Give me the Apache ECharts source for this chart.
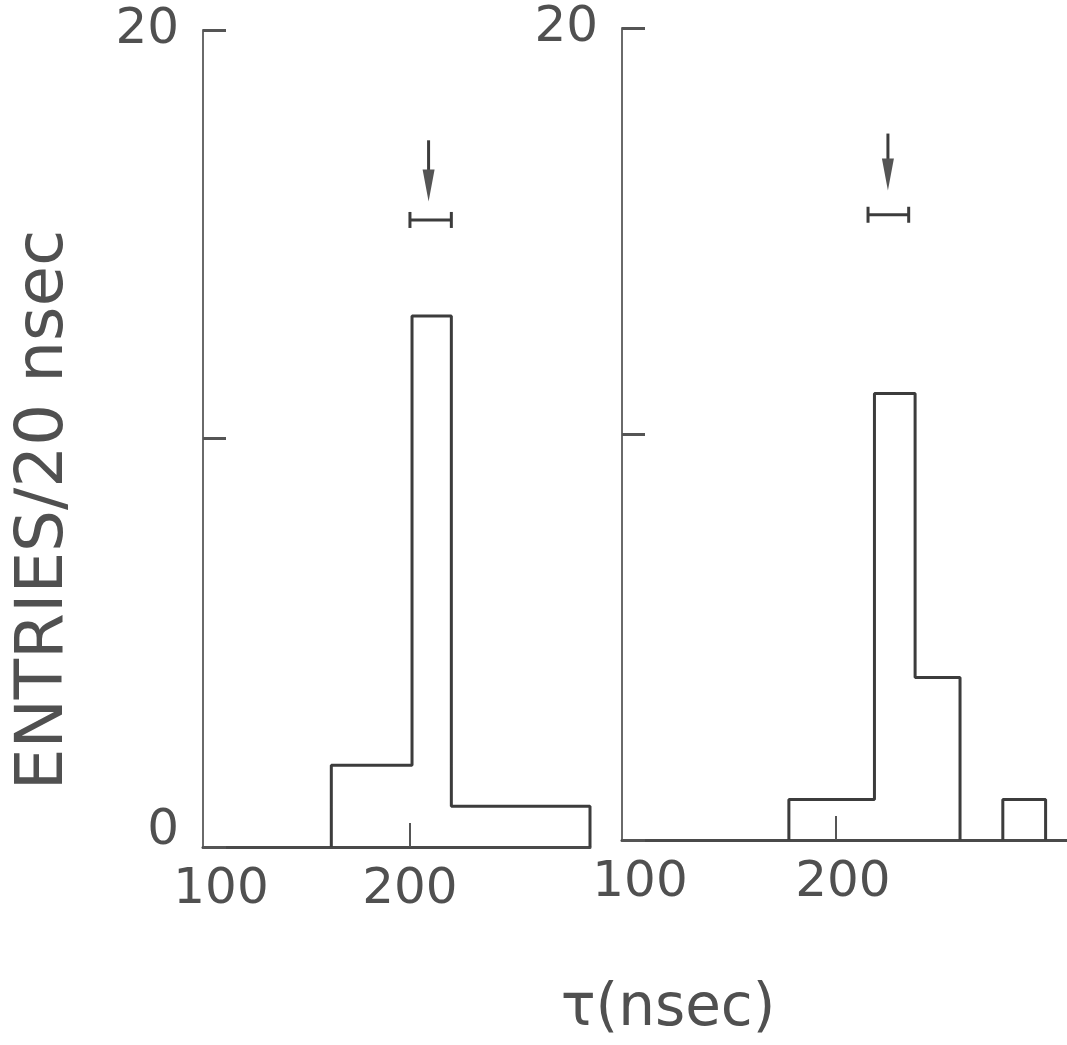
<!DOCTYPE html>
<html>
<head>
<meta charset="utf-8">
<script src="https://cdn.jsdelivr.net/npm/echarts@6/dist/echarts.min.js"></script>
<style>
  html, body { margin: 0; padding: 0; background: #ffffff; }
  #chart { width: 1067px; height: 1045px; }
</style>
</head>
<body>
<div id="chart"></div>
<script>
// ---- data ----
const leftEdges = [162, 201, 220, 287];
const leftCounts = [2, 13, 1];
const rightEdges = [178, 218, 237, 258];
const rightCounts = [1, 11, 4];
const rightTailEdges = [278, 298];
const rightTailCounts = [1];
// arrow: [x, top, tip]; error bar: [low, high, y]
const leftArrow = [209, 17.3, 15.8];
const leftErr = [200, 220, 15.35];
const rightArrow = [224.3, 17.4, 16.0];
const rightErr = [215, 234, 15.4];
const xTickLabels = [100, 200];
const leftYTickLabels = [0, 20];
const rightYTickLabels = [20];
const yTitle = 'ENTRIES/20 nsec';
const xTitle = 'τ(nsec)';

const FONT = 'DejaVu Sans';
const TXT = '#505050';
const LINE = '#3c3c3c';

function stepPoints(edges, counts) {
  const pts = [[edges[0], 0]];
  for (let i = 0; i < counts.length; i++) pts.push([edges[i], counts[i]]);
  pts.push([edges[edges.length - 1], 0]);
  return pts;
}

function histSeries(idx, edges, counts) {
  return {
    type: 'line', xAxisIndex: idx, yAxisIndex: idx,
    step: 'end', symbol: 'none', clip: false,
    data: stepPoints(edges, counts),
    lineStyle: { color: LINE, width: 3 }
  };
}

function arrowSeries(idx, a) {
  return {
    type: 'custom', xAxisIndex: idx, yAxisIndex: idx, clip: false,
    data: [a],
    renderItem: function (params, api) {
      const top = api.coord([api.value(0), api.value(1)]);
      const tip = api.coord([api.value(0), api.value(2)]);
      return {
        type: 'group',
        children: [
          { type: 'line', shape: { x1: top[0], y1: top[1], x2: tip[0], y2: tip[1] - 20 },
            style: { stroke: LINE, lineWidth: 3 } },
          { type: 'polygon', shape: { points: [[tip[0] - 6, tip[1] - 32], [tip[0] + 6, tip[1] - 32], [tip[0], tip[1]]] },
            style: { fill: '#555' } }
        ]
      };
    }
  };
}

function errSeries(idx, e) {
  return {
    type: 'custom', xAxisIndex: idx, yAxisIndex: idx, clip: false,
    data: [e],
    renderItem: function (params, api) {
      const lo = api.coord([api.value(0), api.value(2)]);
      const hi = api.coord([api.value(1), api.value(2)]);
      const st = { stroke: LINE, lineWidth: 3 };
      return {
        type: 'group',
        children: [
          { type: 'line', shape: { x1: lo[0], y1: lo[1], x2: hi[0], y2: hi[1] }, style: st },
          { type: 'line', shape: { x1: lo[0], y1: lo[1] - 8, x2: lo[0], y2: lo[1] + 8 }, style: st },
          { type: 'line', shape: { x1: hi[0], y1: hi[1] - 8, x2: hi[0], y2: hi[1] + 8 }, style: st }
        ]
      };
    }
  };
}

function xAxisCfg(idx, max, shift200) {
  return {
    type: 'value', gridIndex: idx, min: 100, max: max, interval: 100,
    splitLine: { show: false },
    axisLine: { show: true, lineStyle: { color: '#4a4a4a', width: 3 } },
    axisTick: { show: true, inside: true, length: 24, customValues: [200], lineStyle: { color: '#555', width: 2 } },
    axisLabel: {
      customValues: xTickLabels, margin: 18, color: TXT, fontFamily: FONT, fontSize: 50,
      formatter: function (v) { return v === 100 ? '{a|' + v + '}' : '{b|' + v + '}'; },
      rich: {
        a: { fontSize: 50, fontFamily: FONT, color: TXT, padding: [0, 0, 0, 36] },
        b: { fontSize: 50, fontFamily: FONT, color: TXT, padding: [0, 0, 0, shift200] }
      }
    }
  };
}

function yAxisCfg(idx, labels) {
  return {
    type: 'value', gridIndex: idx, min: 0, max: 20, interval: 10,
    splitLine: { show: false },
    axisLine: { show: true, lineStyle: { color: '#6a6a6a', width: 2 } },
    axisTick: { show: true, inside: true, length: 23, lineStyle: { color: '#555', width: 3 } },
    axisLabel: {
      customValues: labels, margin: 24, color: TXT, fontFamily: FONT, fontSize: 50,
      formatter: function (v) { return v === 0 ? '{z|0}' : '{t|' + v + '}'; },
      rich: {
        z: { fontSize: 50, fontFamily: FONT, color: TXT, padding: [0, 0, 32, 0] },
        t: { fontSize: 50, fontFamily: FONT, color: TXT }
      }
    }
  };
}

const chart = echarts.init(document.getElementById('chart'), null, { renderer: 'canvas' });
chart.setOption({
  backgroundColor: '#ffffff',
  animation: false,
  grid: [
    { left: 203, top: 30, width: 387, height: 817 },
    { left: 622, top: 28, width: 445, height: 812 }
  ],
  xAxis: [xAxisCfg(0, 287, 0), xAxisCfg(1, 308, 14)],
  yAxis: [yAxisCfg(0, leftYTickLabels), yAxisCfg(1, rightYTickLabels)],
  graphic: [
    { type: 'text', x: 45, y: 510, rotation: Math.PI / 2,
      style: { text: yTitle, fontFamily: FONT, fontSize: 66, fill: TXT, align: 'center', verticalAlign: 'middle' } },
    { type: 'text', x: 668, y: 1010,
      style: { text: xTitle, fontFamily: FONT, fontSize: 58, fill: TXT, align: 'center', verticalAlign: 'middle' } }
  ],
  series: [
    histSeries(0, leftEdges, leftCounts),
    histSeries(1, rightEdges, rightCounts),
    histSeries(1, rightTailEdges, rightTailCounts),
    arrowSeries(0, leftArrow),
    errSeries(0, leftErr),
    arrowSeries(1, rightArrow),
    errSeries(1, rightErr)
  ]
});
</script>
</body>
</html>
